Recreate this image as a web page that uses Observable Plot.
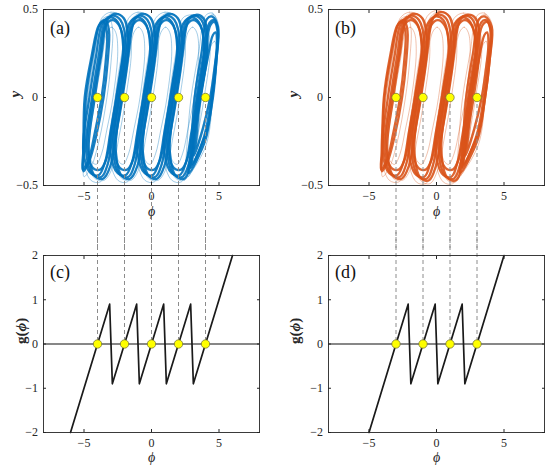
<!DOCTYPE html>
<html><head><meta charset="utf-8">
<script src="https://cdn.jsdelivr.net/npm/d3@7"></script>
<script src="https://cdn.jsdelivr.net/npm/@observablehq/plot@0.6"></script>
<style>
body{margin:0;background:#fff;}
#wrap{position:relative;width:550px;height:470px;background:#fff;overflow:hidden;}
#wrap > svg{position:absolute;}
#wrap svg text{font-family:'Liberation Serif','Times New Roman',serif !important;}
</style></head><body><div id="wrap"></div>
<script>
// equilibrium points
const eqA = [-4, -2, 0, 2, 4];
const eqB = [-3, -1, 1, 3];
// ticks
const xTicks = [-5, 0, 5];
const yTicksTop = [-0.5, 0, 0.5];
const yTicksBot = [-2, -1, 0, 1, 2];
// g(phi) vertices
const gPhiA = [-6, -3.1, -2.9, -1.1, -0.9, 0.9, 1.1, 2.9, 3.1, 6];
const gValA = [-2, 0.9, -0.9, 0.9, -0.9, 0.9, -0.9, 0.9, -0.9, 2];
const gPhiB = [-5, -2.1, -1.9, -0.1, 0.1, 1.9, 2.1, 5];
const gValB = [-2, 0.9, -0.9, 0.9, -0.9, 0.9, -0.9, 2];
// attractor loops (phi, y): dense core loops and sparse threads
const coreA = [
[[-3.45,0.43],[-2.9,0.465],[-2.3,0.44],[-1.9,0.3],[-2.4,0],[-2.85,-0.2],[-3.25,-0.38],[-3.7,-0.45],[-4.3,-0.44],[-4.85,-0.3],[-4.4,0],[-3.9,0.24]],
[[-3.25,0.44],[-2.7,0.475],[-2.05,0.45],[-1.7,0.3],[-2.15,0],[-2.6,-0.2],[-3.05,-0.39],[-3.55,-0.46],[-4.15,-0.45],[-4.65,-0.3],[-4.2,0],[-3.7,0.25]],
[[-3.65,0.42],[-3.1,0.455],[-2.5,0.43],[-2.1,0.29],[-2.6,0],[-3.05,-0.2],[-3.45,-0.37],[-3.9,-0.44],[-4.5,-0.43],[-5.05,-0.3],[-4.6,0],[-4.1,0.24]],
[[-3.4,0.41],[-2.9,0.44],[-2.4,0.41],[-2.05,0.28],[-2.5,0],[-2.95,-0.19],[-3.35,-0.35],[-3.8,-0.41],[-4.35,-0.4],[-4.75,-0.28],[-4.3,0],[-3.8,0.23]],
[[-1.45,0.43],[-0.9,0.465],[-0.3,0.44],[0.1,0.3],[-0.4,0],[-0.85,-0.2],[-1.25,-0.38],[-1.7,-0.45],[-2.3,-0.44],[-2.85,-0.3],[-2.4,0],[-1.9,0.24]],
[[-1.25,0.44],[-0.7,0.475],[-0.05,0.45],[0.3,0.3],[-0.15,0],[-0.6,-0.2],[-1.05,-0.39],[-1.55,-0.46],[-2.15,-0.45],[-2.65,-0.3],[-2.2,0],[-1.7,0.25]],
[[-1.65,0.42],[-1.1,0.455],[-0.5,0.43],[-0.1,0.29],[-0.6,0],[-1.05,-0.2],[-1.45,-0.37],[-1.9,-0.44],[-2.5,-0.43],[-3.05,-0.3],[-2.6,0],[-2.1,0.24]],
[[-1.4,0.41],[-0.9,0.44],[-0.4,0.41],[-0.05,0.28],[-0.5,0],[-0.95,-0.19],[-1.35,-0.35],[-1.8,-0.41],[-2.35,-0.4],[-2.75,-0.28],[-2.3,0],[-1.8,0.23]],
[[0.55,0.43],[1.1,0.465],[1.7,0.44],[2.1,0.3],[1.6,0],[1.15,-0.2],[0.75,-0.38],[0.3,-0.45],[-0.3,-0.44],[-0.85,-0.3],[-0.4,0],[0.1,0.24]],
[[0.75,0.44],[1.3,0.475],[1.95,0.45],[2.3,0.3],[1.85,0],[1.4,-0.2],[0.95,-0.39],[0.45,-0.46],[-0.15,-0.45],[-0.65,-0.3],[-0.2,0],[0.3,0.25]],
[[0.35,0.42],[0.9,0.455],[1.5,0.43],[1.9,0.29],[1.4,0],[0.95,-0.2],[0.55,-0.37],[0.1,-0.44],[-0.5,-0.43],[-1.05,-0.3],[-0.6,0],[-0.1,0.24]],
[[0.6,0.41],[1.1,0.44],[1.6,0.41],[1.95,0.28],[1.5,0],[1.05,-0.19],[0.65,-0.35],[0.2,-0.41],[-0.35,-0.4],[-0.75,-0.28],[-0.3,0],[0.2,0.23]],
[[2.55,0.43],[3.1,0.465],[3.7,0.44],[4.1,0.3],[3.6,0],[3.15,-0.2],[2.75,-0.38],[2.3,-0.45],[1.7,-0.44],[1.15,-0.3],[1.6,0],[2.1,0.24]],
[[2.75,0.44],[3.3,0.47],[3.85,0.45],[4.15,0.3],[3.65,0],[3.2,-0.2],[2.85,-0.39],[2.45,-0.46],[1.85,-0.45],[1.35,-0.3],[1.8,0],[2.3,0.25]],
[[2.35,0.42],[2.9,0.455],[3.5,0.43],[3.9,0.29],[3.4,0],[2.95,-0.2],[2.55,-0.37],[2.1,-0.44],[1.5,-0.43],[0.95,-0.3],[1.4,0],[1.9,0.24]],
[[2.6,0.41],[3.1,0.44],[3.6,0.41],[3.95,0.28],[3.5,0],[3.05,-0.19],[2.65,-0.35],[2.2,-0.41],[1.65,-0.4],[1.25,-0.28],[1.7,0],[2.2,0.23]],
[[-3.8,0.42],[-3.4,0.44],[-3.15,0.38],[-3.25,0.2],[-3.55,0],[-4.1,-0.22],[-4.6,-0.36],[-5.05,-0.42],[-5.0,-0.3],[-4.85,0],[-4.35,0.24]],
[[-3.9,0.41],[-3.55,0.43],[-3.3,0.37],[-3.4,0.2],[-3.7,0],[-4.2,-0.2],[-4.65,-0.35],[-5.1,-0.41],[-5.05,-0.3],[-4.95,0],[-4.45,0.23]],
[[4.3,0.425],[4.67,0.44],[4.92,0.38],[4.78,0.22],[4.45,0],[3.9,-0.22],[2.9,-0.4],[3.05,-0.3],[3.35,0],[3.85,0.24]],
[[4.35,0.41],[4.65,0.43],[4.9,0.37],[4.8,0.2],[4.55,0],[4.05,-0.2],[3.0,-0.38],[3.15,-0.28],[3.5,0],[3.95,0.23]],
[[4.1,0.445],[4.5,0.46],[4.93,0.4],[4.82,0.22],[4.5,0],[4.0,-0.24],[2.75,-0.43],[2.9,-0.32],[3.2,0],[3.7,0.25]],
[[4.55,0.355],[4.75,0.37],[4.85,0.31],[4.7,0.185],[4.35,0],[3.8,-0.18],[3.15,-0.33],[3.3,-0.25],[3.6,0],[4.1,0.2]]
];
const thinA = [
[[-3.7,0.45],[-3.0,0.485],[-2.2,0.46],[-1.75,0.32],[-2.35,0],[-2.85,-0.22],[-3.3,-0.4],[-3.8,-0.48],[-4.5,-0.47],[-5.1,-0.32],[-4.7,0],[-4.2,0.25]],
[[-3.3,0.37],[-2.95,0.4],[-2.65,0.37],[-2.5,0.26],[-2.85,0],[-3.3,-0.18],[-3.7,-0.32],[-4.1,-0.38],[-4.45,-0.36],[-4.6,-0.26],[-4.15,0],[-3.7,0.2]],
[[-3.5,0.44],[-2.8,0.48],[-2.0,0.45],[-1.5,0.3],[-1.9,0],[-2.4,-0.22],[-2.9,-0.4],[-3.5,-0.47],[-4.2,-0.46],[-4.9,-0.3],[-4.45,0],[-3.95,0.25]],
[[-1.7,0.45],[-1.0,0.485],[-0.2,0.46],[0.25,0.32],[-0.35,0],[-0.85,-0.22],[-1.3,-0.4],[-1.8,-0.48],[-2.5,-0.47],[-3.15,-0.32],[-2.7,0],[-2.2,0.25]],
[[-1.3,0.37],[-0.95,0.4],[-0.65,0.37],[-0.5,0.26],[-0.85,0],[-1.3,-0.18],[-1.7,-0.32],[-2.1,-0.38],[-2.45,-0.36],[-2.6,-0.26],[-2.15,0],[-1.7,0.2]],
[[-1.5,0.44],[-0.8,0.48],[0.0,0.45],[0.5,0.3],[0.1,0],[-0.4,-0.22],[-0.9,-0.4],[-1.5,-0.47],[-2.2,-0.46],[-2.9,-0.3],[-2.45,0],[-1.95,0.25]],
[[0.3,0.45],[1.0,0.485],[1.8,0.46],[2.25,0.32],[1.65,0],[1.15,-0.22],[0.7,-0.4],[0.2,-0.48],[-0.5,-0.47],[-1.15,-0.32],[-0.7,0],[-0.2,0.25]],
[[0.7,0.37],[1.05,0.4],[1.35,0.37],[1.5,0.26],[1.15,0],[0.7,-0.18],[0.3,-0.32],[-0.1,-0.38],[-0.45,-0.36],[-0.6,-0.26],[-0.15,0],[0.3,0.2]],
[[0.5,0.44],[1.2,0.48],[2.0,0.45],[2.5,0.3],[2.1,0],[1.6,-0.22],[1.1,-0.4],[0.5,-0.47],[-0.2,-0.46],[-0.9,-0.3],[-0.45,0],[0.05,0.25]],
[[2.3,0.45],[3.0,0.47],[3.8,0.45],[4.2,0.32],[3.65,0],[3.15,-0.22],[2.7,-0.4],[2.2,-0.48],[1.5,-0.47],[0.85,-0.32],[1.3,0],[1.8,0.25]],
[[2.7,0.37],[3.05,0.4],[3.35,0.37],[3.5,0.26],[3.15,0],[2.7,-0.18],[2.3,-0.32],[1.9,-0.38],[1.55,-0.36],[1.4,-0.26],[1.85,0],[2.3,0.2]],
[[2.5,0.44],[3.2,0.46],[3.9,0.44],[4.35,0.3],[3.9,0],[3.4,-0.22],[2.9,-0.4],[2.4,-0.47],[1.8,-0.46],[1.1,-0.3],[1.55,0],[2.05,0.25]],
[[-3.7,0.44],[-3.2,0.46],[-2.9,0.4],[-3.0,0.2],[-3.3,0],[-3.9,-0.25],[-4.5,-0.4],[-5.0,-0.45],[-4.95,-0.3],[-4.75,0],[-4.25,0.25]],
[[4.0,0.465],[4.5,0.48],[4.95,0.42],[4.85,0.22],[4.55,0],[4.0,-0.28],[2.4,-0.47],[2.55,-0.35],[2.9,-0.02],[3.5,0.26]],
[[4.45,0.3],[4.68,0.32],[4.8,0.27],[4.6,0.16],[4.3,0],[3.8,-0.16],[3.3,-0.29],[3.45,-0.22],[3.7,0],[4.1,0.18]],
[[4.2,0.455],[4.6,0.47],[4.9,0.41],[4.78,0.22],[4.48,0],[3.95,-0.25],[2.7,-0.45],[2.85,-0.34],[3.15,0],[3.7,0.26]]
];
const coreB = [
[[-2.45,0.43],[-1.9,0.465],[-1.3,0.44],[-0.9,0.3],[-1.4,0],[-1.85,-0.2],[-2.25,-0.38],[-2.7,-0.45],[-3.3,-0.44],[-3.85,-0.3],[-3.4,0],[-2.9,0.24]],
[[-2.25,0.44],[-1.7,0.475],[-1.05,0.45],[-0.7,0.3],[-1.15,0],[-1.6,-0.2],[-2.05,-0.39],[-2.55,-0.46],[-3.15,-0.45],[-3.65,-0.3],[-3.2,0],[-2.7,0.25]],
[[-2.65,0.42],[-2.1,0.455],[-1.5,0.43],[-1.1,0.29],[-1.6,0],[-2.05,-0.2],[-2.45,-0.37],[-2.9,-0.44],[-3.5,-0.43],[-4.0,-0.3],[-3.6,0],[-3.1,0.24]],
[[-2.4,0.41],[-1.9,0.44],[-1.4,0.41],[-1.05,0.28],[-1.5,0],[-1.95,-0.19],[-2.35,-0.35],[-2.8,-0.41],[-3.35,-0.4],[-3.75,-0.28],[-3.3,0],[-2.8,0.23]],
[[-0.45,0.43],[0.1,0.47],[0.7,0.45],[1.1,0.3],[0.6,0],[0.15,-0.2],[-0.25,-0.38],[-0.7,-0.46],[-1.3,-0.45],[-1.85,-0.3],[-1.4,0],[-0.9,0.24]],
[[-0.25,0.45],[0.3,0.485],[0.95,0.46],[1.3,0.3],[0.85,0],[0.4,-0.2],[-0.05,-0.39],[-0.55,-0.47],[-1.15,-0.46],[-1.65,-0.3],[-1.2,0],[-0.7,0.25]],
[[-0.65,0.42],[-0.1,0.46],[0.5,0.44],[0.9,0.29],[0.4,0],[-0.05,-0.2],[-0.45,-0.37],[-0.9,-0.45],[-1.5,-0.44],[-2.05,-0.3],[-1.6,0],[-1.1,0.24]],
[[-0.4,0.41],[0.1,0.44],[0.6,0.41],[0.95,0.28],[0.5,0],[0.05,-0.19],[-0.35,-0.35],[-0.8,-0.41],[-1.35,-0.4],[-1.75,-0.28],[-1.3,0],[-0.8,0.23]],
[[1.55,0.43],[2.1,0.465],[2.7,0.44],[3.05,0.3],[2.6,0],[2.15,-0.2],[1.75,-0.38],[1.3,-0.46],[0.7,-0.45],[0.15,-0.3],[0.6,0],[1.1,0.24]],
[[1.75,0.44],[2.3,0.47],[2.9,0.45],[3.2,0.3],[2.75,0],[2.3,-0.2],[1.9,-0.39],[1.45,-0.47],[0.85,-0.46],[0.35,-0.3],[0.8,0],[1.3,0.25]],
[[1.35,0.42],[1.9,0.455],[2.5,0.43],[2.9,0.29],[2.4,0],[1.95,-0.2],[1.55,-0.37],[1.1,-0.45],[0.5,-0.44],[-0.05,-0.3],[0.4,0],[0.9,0.24]],
[[1.6,0.41],[2.1,0.44],[2.6,0.41],[2.95,0.28],[2.5,0],[2.05,-0.19],[1.65,-0.35],[1.2,-0.41],[0.65,-0.4],[0.25,-0.28],[0.7,0],[1.2,0.23]],
[[-2.8,0.42],[-2.4,0.44],[-2.15,0.38],[-2.25,0.2],[-2.55,0],[-3.1,-0.22],[-3.6,-0.36],[-4.05,-0.42],[-4.0,-0.3],[-3.85,0],[-3.35,0.24]],
[[-2.9,0.41],[-2.55,0.43],[-2.3,0.37],[-2.4,0.2],[-2.7,0],[-3.2,-0.2],[-3.65,-0.35],[-4.1,-0.41],[-4.05,-0.3],[-3.9,0],[-3.45,0.23]],
[[3.3,0.425],[3.67,0.44],[3.98,0.39],[3.85,0.22],[3.5,0],[2.95,-0.22],[1.9,-0.4],[2.05,-0.3],[2.35,0],[2.85,0.24]],
[[3.4,0.41],[3.75,0.43],[4.05,0.37],[3.92,0.2],[3.6,0],[3.1,-0.2],[2.0,-0.38],[2.15,-0.28],[2.5,0],[2.95,0.23]],
[[3.15,0.445],[3.6,0.46],[4.1,0.4],[3.95,0.22],[3.6,0],[3.05,-0.24],[1.75,-0.43],[1.9,-0.32],[2.2,0],[2.7,0.25]],
[[3.55,0.355],[3.75,0.37],[3.85,0.31],[3.7,0.185],[3.35,0],[2.8,-0.18],[2.15,-0.33],[2.3,-0.25],[2.6,0],[3.1,0.2]]
];
const thinB = [
[[-2.7,0.45],[-2.0,0.485],[-1.2,0.46],[-0.75,0.32],[-1.35,0],[-1.85,-0.22],[-2.3,-0.4],[-2.8,-0.48],[-3.5,-0.47],[-4.1,-0.32],[-3.75,0],[-3.2,0.25]],
[[-2.3,0.37],[-1.95,0.4],[-1.65,0.37],[-1.5,0.26],[-1.85,0],[-2.3,-0.18],[-2.7,-0.32],[-3.1,-0.38],[-3.45,-0.36],[-3.6,-0.26],[-3.15,0],[-2.7,0.2]],
[[-2.5,0.44],[-1.8,0.48],[-1.0,0.45],[-0.5,0.3],[-0.9,0],[-1.4,-0.22],[-1.9,-0.4],[-2.5,-0.47],[-3.2,-0.46],[-3.9,-0.3],[-3.45,0],[-2.95,0.25]],
[[-0.7,0.46],[0.0,0.495],[0.8,0.47],[1.25,0.32],[0.65,0],[0.15,-0.22],[-0.3,-0.41],[-0.8,-0.49],[-1.5,-0.48],[-2.15,-0.32],[-1.7,0],[-1.2,0.25]],
[[-0.3,0.37],[0.05,0.4],[0.35,0.37],[0.5,0.26],[0.15,0],[-0.3,-0.18],[-0.7,-0.32],[-1.1,-0.38],[-1.45,-0.36],[-1.6,-0.26],[-1.15,0],[-0.7,0.2]],
[[-0.5,0.45],[0.2,0.49],[1.0,0.46],[1.5,0.3],[1.1,0],[0.6,-0.22],[0.1,-0.41],[-0.5,-0.49],[-1.2,-0.47],[-1.9,-0.3],[-1.45,0],[-0.95,0.25]],
[[1.3,0.45],[2.0,0.48],[2.8,0.45],[3.2,0.32],[2.65,0],[2.15,-0.22],[1.7,-0.41],[1.2,-0.49],[0.5,-0.48],[-0.15,-0.32],[0.3,0],[0.8,0.25]],
[[1.7,0.37],[2.05,0.4],[2.35,0.37],[2.5,0.26],[2.15,0],[1.7,-0.18],[1.3,-0.32],[0.9,-0.38],[0.55,-0.36],[0.4,-0.26],[0.85,0],[1.3,0.2]],
[[1.5,0.44],[2.2,0.46],[2.9,0.44],[3.35,0.3],[2.9,0],[2.4,-0.22],[1.9,-0.41],[1.4,-0.48],[0.8,-0.47],[0.1,-0.3],[0.55,0],[1.05,0.25]],
[[-2.7,0.44],[-2.2,0.46],[-1.9,0.4],[-2.0,0.2],[-2.3,0],[-2.9,-0.25],[-3.5,-0.4],[-4.0,-0.45],[-3.95,-0.3],[-3.75,0],[-3.25,0.25]],
[[3.0,0.465],[3.55,0.48],[4.1,0.42],[3.95,0.22],[3.62,0],[3.05,-0.28],[1.4,-0.47],[1.55,-0.35],[1.9,-0.02],[2.5,0.26]],
[[3.45,0.3],[3.68,0.32],[3.8,0.27],[3.6,0.16],[3.3,0],[2.8,-0.16],[2.3,-0.29],[2.45,-0.22],[2.7,0],[3.1,0.18]],
[[3.2,0.455],[3.65,0.47],[4.05,0.41],[3.9,0.22],[3.55,0],[3.0,-0.25],[1.7,-0.45],[1.85,-0.34],[2.15,0],[2.7,0.26]]
];
const panelLabels = ["(a)", "(b)", "(c)", "(d)"];
const colorA = "#0072BD", colorB = "#D95319";

const rows = loops => loops.flatMap((pts, i) => pts.map(([phi, y]) => ({loop: i, phi, y})));
const gRows = (P, V) => P.map((p, i) => ({phi: p, g: V[i]}));
const eqRows = E => E.map(p => ({phi: p, v: 0}));

const FONT = "'Liberation Serif','Times New Roman',serif";
const dashStyle = {stroke: "#8c8c8c", strokeWidth: 1, strokeDasharray: "4,3"};
const fmt = d => String(d).replace("-", "\u2212");

function axes(yt) {
  const c = {color: "#262626", tickSize: -3, label: null};
  return [
    Plot.axisX({...c, anchor: "bottom", ticks: xTicks, tickFormat: fmt, tickPadding: 9, fontSize: 12}),
    Plot.axisX({...c, anchor: "top", ticks: xTicks, tickFormat: () => ""}),
    Plot.axisY({...c, anchor: "left", ticks: yt, tickFormat: fmt, tickPadding: 8.5, fontSize: 12}),
    Plot.axisY({...c, anchor: "right", ticks: yt, tickFormat: () => ""}),
    Plot.frame({stroke: "#262626", strokeWidth: 0.9})
  ];
}

function topPanel(core, thin, eq, color, label, ml, mr, ylabDx) {
  return Plot.plot({
    width: 275, height: 250, marginLeft: ml, marginRight: mr, marginTop: 9, marginBottom: 65,
    x: {domain: [-8, 8]}, y: {domain: [-0.5, 0.5]},
    style: {fontFamily: FONT, fontSize: "12px", background: "transparent", color: "#262626"},
    marks: [
      Plot.line(rows(thin), {x: "phi", y: "y", z: "loop", curve: "catmull-rom-closed", stroke: color, strokeWidth: 0.8, strokeOpacity: 0.45}),
      Plot.line(rows(core), {x: "phi", y: "y", z: "loop", curve: "catmull-rom-closed", stroke: color, strokeWidth: 2.3, strokeOpacity: 0.9}),
      Plot.ruleX(eq, {x: d => d, y1: () => 0, y2: () => -0.5, insetBottom: -70, ...dashStyle}),
      Plot.dot(eqRows(eq), {x: "phi", y: "v", r: 4.2, fill: "#ffff00", stroke: "#6b6b3a", strokeWidth: 0.7}),
      Plot.text([label], {text: d => d, frameAnchor: "top-left", dx: 6.5, dy: 11.5, lineAnchor: "top", textAnchor: "start", fontSize: 18, fill: "#111"}),
      Plot.text(["ϕ"], {text: d => d, frameAnchor: "bottom", dy: 30, fontStyle: "italic", fontSize: 14, fill: "#262626"}),
      Plot.text(["y"], {text: d => d, frameAnchor: "left", dx: ylabDx, rotate: -90, fontStyle: "italic", fontWeight: "bold", fontSize: 15, fill: "#262626"}),
      ...axes(yTicksTop)
    ]
  });
}

function botPanel(P, V, eq, label, ml, mr, ylabDx) {
  return Plot.plot({
    width: 275, height: 240, marginLeft: ml, marginRight: mr, marginTop: 25, marginBottom: 38,
    x: {domain: [-8, 8]}, y: {domain: [-2, 2]},
    style: {fontFamily: FONT, fontSize: "12px", background: "transparent", color: "#262626"},
    marks: [
      Plot.ruleX(eq, {x: d => d, y1: () => 2, y2: () => 0, insetTop: -30, ...dashStyle}),
      Plot.ruleY([0], {stroke: "#111", strokeWidth: 1.1}),
      Plot.line(gRows(P, V), {x: "phi", y: "g", stroke: "#1a1a1a", strokeWidth: 1.7}),
      Plot.dot(eqRows(eq), {x: "phi", y: "v", r: 4.2, fill: "#ffff00", stroke: "#6b6b3a", strokeWidth: 0.7}),
      Plot.text([label], {text: d => d, frameAnchor: "top-left", dx: 6.5, dy: 10, lineAnchor: "top", textAnchor: "start", fontSize: 18, fill: "#111"}),
      Plot.text(["ϕ"], {text: d => d, frameAnchor: "bottom", dy: 29, fontStyle: "italic", fontSize: 14, fill: "#262626"}),
      Plot.text(["g(ϕ)"], {text: d => d, frameAnchor: "left", dx: ylabDx, rotate: -90, fontWeight: "bold", fontSize: 15, fill: "#262626"}),
      ...axes(yTicksBot)
    ]
  });
}

const wrap = document.getElementById("wrap");
function place(svg, left, top) {
  svg.style.left = left + "px"; svg.style.top = top + "px";
  wrap.appendChild(svg);
  d3.select(svg).selectAll("text").filter(function() { return this.textContent === "g(ϕ)"; })
    .html('g(<tspan font-style="italic">ϕ</tspan>)');
}
place(topPanel(coreA, thinA, eqA, colorA, panelLabels[0], 43, 16, -28), 0, 0);
place(topPanel(coreB, thinB, eqB, colorB, panelLabels[1], 53, 6, -35), 275, 0);
place(botPanel(gPhiA, gValA, eqA, panelLabels[2], 43, 16, -22), 0, 230);
place(botPanel(gPhiB, gValB, eqB, panelLabels[3], 53, 6, -33), 275, 230);
</script></body></html>
